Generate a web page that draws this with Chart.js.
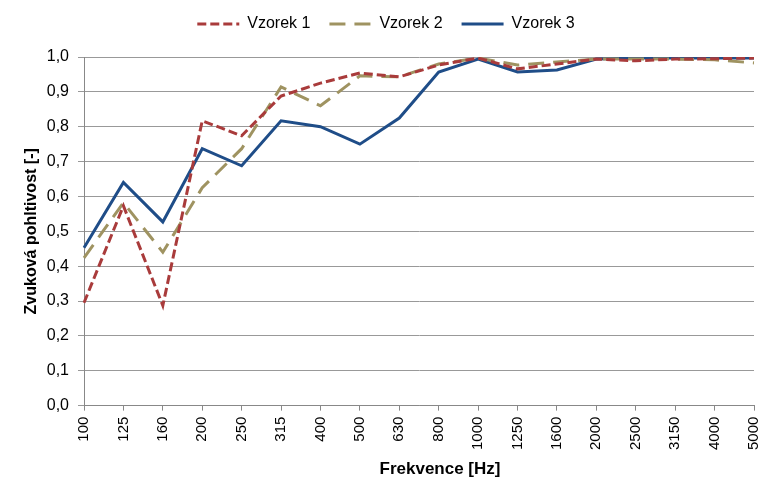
<!DOCTYPE html>
<html>
<head>
<meta charset="utf-8">
<script src="https://cdn.jsdelivr.net/npm/chart.js@4/dist/chart.umd.min.js"></script>
<style>
  html, body { margin: 0; padding: 0; background: #fff; }
  #wrap { width: 770px; height: 497px; }
</style>
</head>
<body>
<div id="wrap"><canvas id="absChart"></canvas></div>
<script>
// frekvence (Hz)
const frequencies = ['100','125','160','200','250','315','400','500','630','800','1000','1250','1600','2000','2500','3150','4000','5000'];

const vzorek1 = [0.295, 0.573, 0.287, 0.817, 0.774, 0.888, 0.925, 0.954, 0.943, 0.977, 0.997, 0.966, 0.980, 0.994, 0.989, 0.994, 0.995, 0.997];
const vzorek2 = [0.424, 0.582, 0.440, 0.625, 0.737, 0.914, 0.860, 0.946, 0.943, 0.980, 0.997, 0.977, 0.986, 0.994, 0.994, 0.994, 0.992, 0.983];
const vzorek3 = [0.453, 0.640, 0.527, 0.737, 0.688, 0.817, 0.800, 0.750, 0.825, 0.957, 0.994, 0.957, 0.963, 0.994, 0.997, 0.997, 0.997, 0.997];

const yTicks = [0, 0.1, 0.2, 0.3, 0.4, 0.5, 0.6, 0.7, 0.8, 0.9, 1.0];

const xTitle = 'Frekvence [Hz]';

Chart.defaults.font.family = '"Liberation Sans", Arial, sans-serif';
Chart.defaults.color = '#000';

// extra space under the legend
const legendGap = {
  id: 'legendGap',
  beforeInit(chart) {
    const fit = chart.legend.fit;
    chart.legend.fit = function () {
      fit.bind(chart.legend)();
      this.height += 15;
    };
  }
};

// x axis title, sits a bit right of the plot centre like in excel
const xTitlePlugin = {
  id: 'xTitle',
  afterDraw(chart) {
    const c = chart.ctx;
    const area = chart.chartArea;
    c.save();
    c.font = 'bold 17px "Liberation Sans", Arial, sans-serif';
    c.fillStyle = '#000';
    c.textAlign = 'center';
    c.textBaseline = 'middle';
    c.fillText(xTitle, (area.left + area.right) / 2 + 21, area.bottom + 64);
    c.restore();
  }
};

const ctx = document.getElementById('absChart');

new Chart(ctx, {
  type: 'line',
  data: {
    labels: frequencies,
    datasets: [
      { label: 'Vzorek 1', data: vzorek1, borderColor: '#a93b3b', borderWidth: 3, borderDash: [9, 4], pointRadius: 0, tension: 0 },
      { label: 'Vzorek 2', data: vzorek2, borderColor: '#9f9361', borderWidth: 3, borderDash: [16, 9], pointRadius: 0, tension: 0 },
      { label: 'Vzorek 3', data: vzorek3, borderColor: '#1f4d88', borderWidth: 3, pointRadius: 0, tension: 0 }
    ]
  },
  plugins: [legendGap, xTitlePlugin],
  options: {
    responsive: true,
    maintainAspectRatio: false,
    animation: false,
    layout: { padding: { left: 18, right: 16, top: -3, bottom: 41 } },
    plugins: {
      tooltip: { enabled: false },
      legend: {
        position: 'top',
        labels: {
          usePointStyle: true,
          pointStyle: 'line',
          pointStyleWidth: 42,
          font: { size: 16 },
          padding: 19,
          generateLabels: chart => {
            const items = Chart.defaults.plugins.legend.labels.generateLabels(chart);
            items.forEach(it => {
              const ds = chart.data.datasets[it.datasetIndex];
              it.lineDash = ds.borderDash || [];
              it.lineWidth = 3;
              it.strokeStyle = ds.borderColor;
            });
            return items;
          }
        }
      }
    },
    scales: {
      x: {
        offset: false,
        afterFit: axis => { axis.paddingLeft = 0; axis.paddingRight = 0; },
        grid: { display: true, drawOnChartArea: false, drawTicks: true, tickLength: 5, color: '#888' },
        border: { color: '#888' },
        ticks: { minRotation: 90, maxRotation: 90, autoSkip: false, font: { size: 15 }, padding: 6 },
        title: { display: false }
      },
      y: {
        min: 0,
        max: 1,
        afterBuildTicks: axis => { axis.ticks = yTicks.map(v => ({ value: v })); },
        afterFit: axis => { axis.width = 66; },
        grid: { color: '#999', tickLength: 6 },
        border: { color: '#888' },
        ticks: {
          font: { size: 16 },
          padding: 9,
          callback: v => v.toFixed(1).replace('.', ',')
        },
        title: { display: true, text: 'Zvuková pohltivost [-]', font: { size: 16, weight: 'bold' }, padding: { top: 4, bottom: 0 } }
      }
    }
  }
});
</script>
</body>
</html>
